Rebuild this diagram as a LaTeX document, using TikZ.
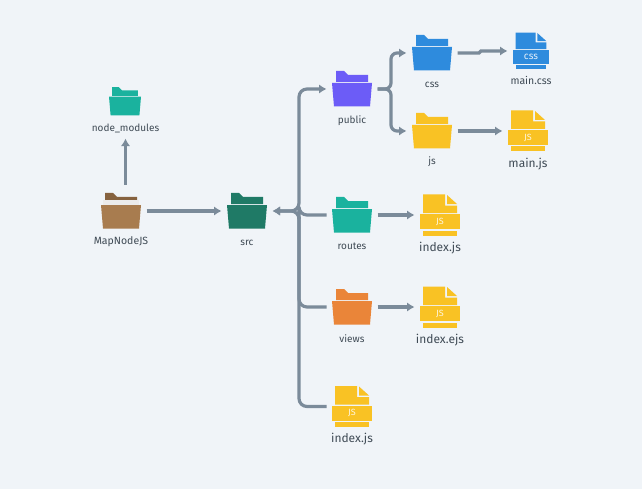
\documentclass[tikz,border=0pt]{standalone}
\usepackage{fontspec}
\setmainfont{Fira Sans}
\usetikzlibrary{arrows.meta}
\definecolor{bgcol}{HTML}{F0F4F8}
\definecolor{arrcol}{HTML}{7B8B9A}
\definecolor{txtcol}{HTML}{3F4A55}
\definecolor{tealcol}{HTML}{1AB29E}
\definecolor{browncol}{HTML}{A87C4F}
\definecolor{darkbrown}{HTML}{86623F}
\definecolor{greencol}{HTML}{1F7A66}
\definecolor{purplecol}{HTML}{6C5CF7}
\definecolor{bluecol}{HTML}{2E8BDD}
\definecolor{yellowcol}{HTML}{F9C224}
\definecolor{orangecol}{HTML}{EA8539}
\tikzset{
  folderbox/.style={minimum width=40pt,minimum height=36pt,inner sep=0pt,outer sep=0pt},
  filebox/.style={minimum width=40pt,minimum height=41pt,inner sep=0pt,outer sep=0pt},
  small/.style={text=txtcol,font=\fontsize{10}{12}\selectfont,inner sep=0pt},
  big/.style={text=txtcol,font=\fontsize{12}{14}\selectfont,inner sep=0pt},
  arr/.style={draw=arrcol,line width=3.2pt,-{Latex[length=7.5pt,width=9.5pt]},shorten >=5.5pt,shorten <=5.5pt,rounded corners=8pt},
  twoarr/.style={arr,{Latex[length=7.5pt,width=9.5pt]}-{Latex[length=7.5pt,width=9.5pt]}},
  pics/folder/.style 2 args={code={
    \fill[#2] (-16,-18) -- (-8,-18) -- (-4,-14) -- (16,-14) -- (16,-7) -- (-16,-7) -- cycle;
    \fill[#1] (-20,-6) -- (20,-6) -- (18,17.5) -- (-18,17.5) -- cycle;
  }},
  pics/file/.style n args={3}{code={
    \fill[#1] (-17,-20.5) -- (5,-20.5) -- (5,-9.5) -- (17,-9.5) -- (17,-2) -- (-17,-2) -- cycle;
    \fill[#1] (7,-20) -- (17,-11) -- (7,-11) -- cycle;
    \fill[#1] (-20,-1) -- (20,-1) -- (20,14) -- (-20,14) -- cycle;
    \fill[#1] (-17,15.5) -- (17,15.5) -- (17,20.5) -- (-17,20.5) -- cycle;
    \node[text=white!85!#1,font=\fontsize{#3}{10}\selectfont,inner sep=0pt] at (0,6.5) {#2};
  }}
}
\begin{document}
\begin{tikzpicture}[x=1pt,y=-1pt]
\useasboundingbox (0,0) rectangle (642,489);
\fill[bgcol] (0,0) rectangle (642,489);
%% folders
\node[folderbox,minimum width=32pt,minimum height=29pt] (modules) at (125,101.5) {};
\node[folderbox] (mapnode) at (121,211) {};
\node[folderbox] (src) at (247,211) {};
\node[folderbox] (public) at (352,89) {};
\node[folderbox] (css) at (432,53) {};
\node[folderbox] (js) at (432,131) {};
\node[folderbox] (routes) at (352,215) {};
\node[folderbox] (views) at (352,307) {};
\pic[scale=.8] at (modules) {folder={tealcol}{tealcol}};
\pic at (mapnode) {folder={browncol}{darkbrown}};
\fill[black!8] (103,200) rectangle (139,205);
\pic at (src) {folder={greencol}{greencol}};
\pic at (public) {folder={purplecol}{purplecol}};
\pic at (css) {folder={bluecol}{bluecol}};
\pic at (js) {folder={yellowcol}{yellowcol}};
\pic at (routes) {folder={tealcol}{tealcol}};
\pic at (views) {folder={orangecol}{orangecol}};
%% files
\node[filebox,minimum width=36pt,minimum height=38pt] (maincss) at (531,51) {};
\node[filebox] (mainjs) at (528,131) {};
\node[filebox] (indexjs) at (440,215) {};
\node[filebox] (indexejs) at (440,307) {};
\node[filebox] (rootjs) at (352,406.5) {};
\pic[scale=.9] at (maincss) {file={bluecol}{css}{10}};
\pic at (mainjs) {file={yellowcol}{JS}{9}};
\pic at (indexjs) {file={yellowcol}{JS}{9}};
\pic at (indexejs) {file={yellowcol}{JS}{9}};
\pic at (rootjs) {file={yellowcol}{JS}{9}};
%% labels
\node[small] (moduleslabel) at (125.5,128.5) {node\_modules};
\node[small,font=\fontsize{10.5}{12}\selectfont] at (121,241.5) {MapNodeJS};
\node[small] at (247,242.5) {src};
\node[small] at (352,120.5) {public};
\node[small] at (432,85) {css};
\node[small] at (432,161.5) {js};
\node[small] at (352,246.5) {routes};
\node[small] at (352,338.5) {views};
\node[small,font=\fontsize{10.5}{12}\selectfont] at (531,80.5) {main.css};
\node[big] at (528,164.5) {main.js};
\node[big] at (440,248) {index.js};
\node[big] at (440,340) {index.ejs};
\node[big] at (352,439) {index.js};
%% connectors
\coordinate (hub) at (299,211);
\coordinate (fork) at (391,89);
\draw[arr,shorten <=8pt] (mapnode.north -| moduleslabel) -- (moduleslabel.south);
\draw[arr] (mapnode.east) -- (src.west);
\draw[twoarr] (src.east) -- (hub) |- (public.west);
\draw[arr,{Latex[length=7.5pt,width=9.5pt]}-] (src.east) -- (hub) |- (routes.west);
\draw[arr,-] (hub) |- (views.west);
\draw[arr,-] (hub) |- (rootjs.west);
\draw[arr,rounded corners=6pt] (public.east) -- (fork) |- (css.west);
\draw[arr,rounded corners=6pt] (public.east) -- (fork) |- (js.west);
\draw[arr,rounded corners=0pt] (css.east) -- ++(27,0) -- ++(2,-2) -- (maincss.west);
\draw[arr] (js.east) -- (mainjs.west);
\draw[arr] (routes.east) -- (indexjs.west);
\draw[arr] (views.east) -- (indexejs.west);
\end{tikzpicture}
\end{document}
